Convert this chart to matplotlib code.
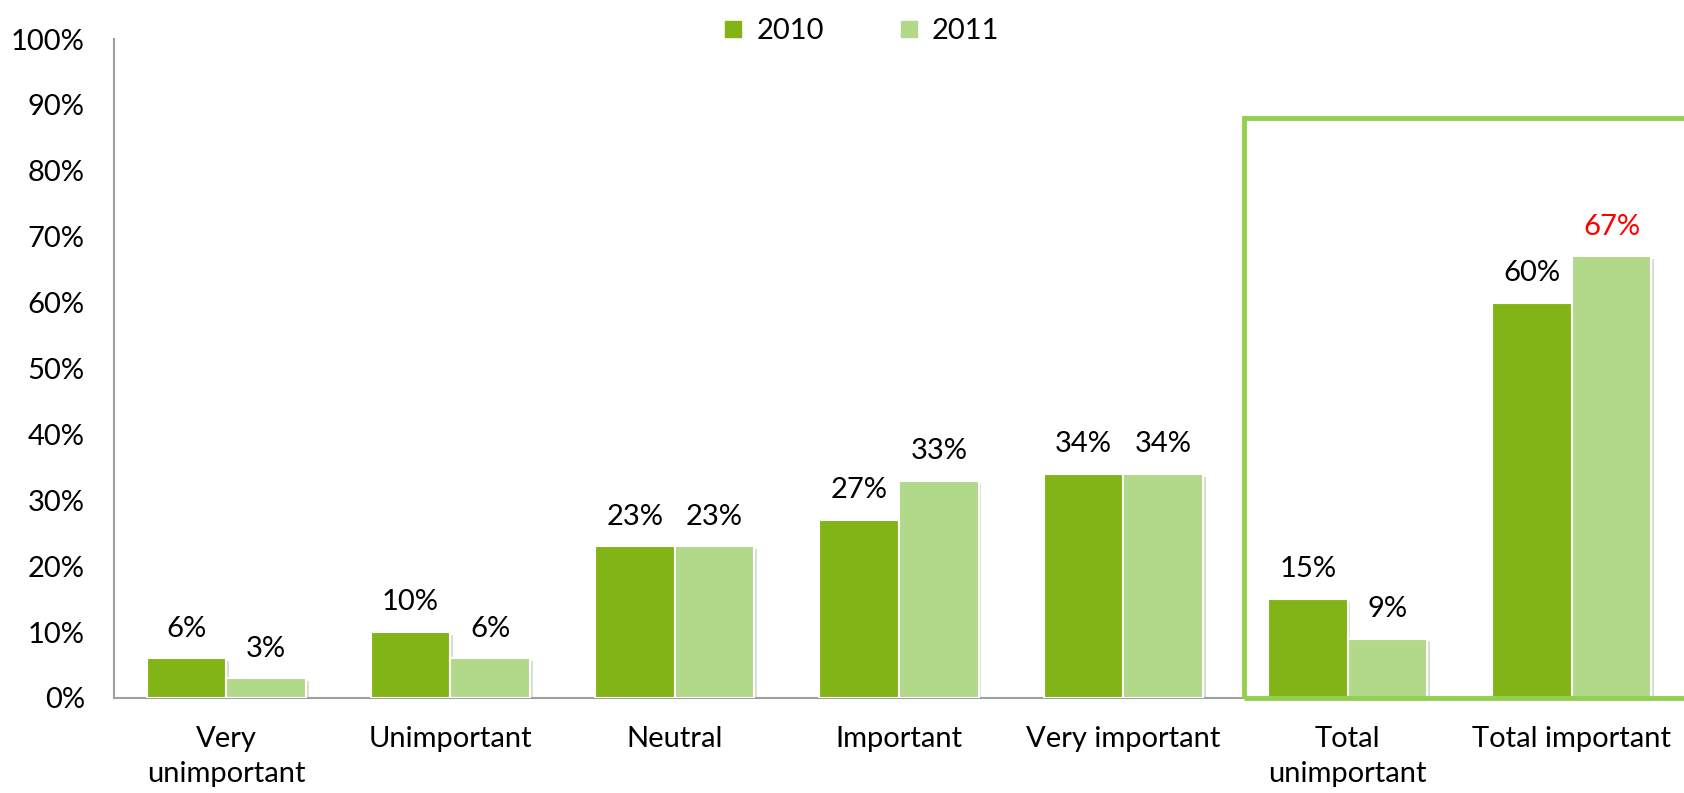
import matplotlib
matplotlib.use('Agg')
import matplotlib.pyplot as plt
import matplotlib.patheffects as pe
from matplotlib.lines import Line2D
from matplotlib.patches import Rectangle
import numpy as np

categories = ['Very\nunimportant', 'Unimportant', 'Neutral', 'Important',
              'Very important', 'Total\nunimportant', 'Total important']
values_2010 = [6, 10, 23, 27, 34, 15, 60]
values_2011 = [3, 6, 23, 33, 34, 9, 67]
series_names = ['2010', '2011']
y_ticks = [0, 10, 20, 30, 40, 50, 60, 70, 80, 90, 100]

dark_green = '#82B418'
light_green = '#B2D88A'
box_green = '#92D050'

plt.rcParams['font.family'] = ['Lato', 'DejaVu Sans']

fig = plt.figure(figsize=(16.84, 7.93), dpi=100)
ax = fig.add_axes([0.0677, 0.1198, 0.9323, 0.831])

x = np.arange(len(categories))
w = 0.355
shadow = [pe.SimplePatchShadow(offset=(2, -2), shadow_rgbFace='#888888', alpha=0.3), pe.Normal()]

bars_a = ax.bar(x - w / 2, values_2010, width=w, color=dark_green,
                edgecolor='white', linewidth=1.5, zorder=3)
bars_b = ax.bar(x + w / 2, values_2011, width=w, color=light_green,
                edgecolor='white', linewidth=1.5, zorder=3)
for b in list(bars_a) + list(bars_b):
    b.set_path_effects(shadow)

# value labels above every bar
for xs, vals in [(x - w / 2, values_2010), (x + w / 2, values_2011)]:
    for xi, v in zip(xs, vals):
        ax.annotate(f'{v}%', (xi, v), xytext=(0, 12), textcoords='offset points',
                    ha='center', va='bottom', fontsize=21, color='black')

# highlight the larger 2011 "Total important" figure
ax.texts[-1].set_color('#FF0000')

# frame around the two total groups
box = Rectangle((4.54, 0), 3.0, 88, fill=False, edgecolor=box_green,
                linewidth=3.5, clip_on=False, zorder=4)
ax.add_patch(box)

ax.set_xlim(-0.5, 6.5)
ax.set_ylim(0, 100)
ax.set_yticks(y_ticks)
ax.set_yticklabels([f'{t}%' for t in y_ticks], fontsize=21)
ax.set_xticks(x)
ax.set_xticklabels(categories, fontsize=21, linespacing=1.45)
ax.tick_params(axis='y', length=0, pad=21)
ax.tick_params(axis='x', length=0, pad=20)

for s in ['top', 'right']:
    ax.spines[s].set_visible(False)
for s in ['left', 'bottom']:
    ax.spines[s].set_color('#A0A0A0')
    ax.spines[s].set_linewidth(1.5)

handles = [Line2D([], [], marker='s', linestyle='none', markersize=12,
                  markerfacecolor=c, markeredgecolor=c)
           for c in (dark_green, light_green)]
fig.legend(handles, series_names, loc='upper center', bbox_to_anchor=(0.511, 1.01),
           ncol=2, frameon=False, fontsize=21, handlelength=0.8,
           handletextpad=0.4, columnspacing=2.5)

fig.savefig('out.png', dpi=100)
